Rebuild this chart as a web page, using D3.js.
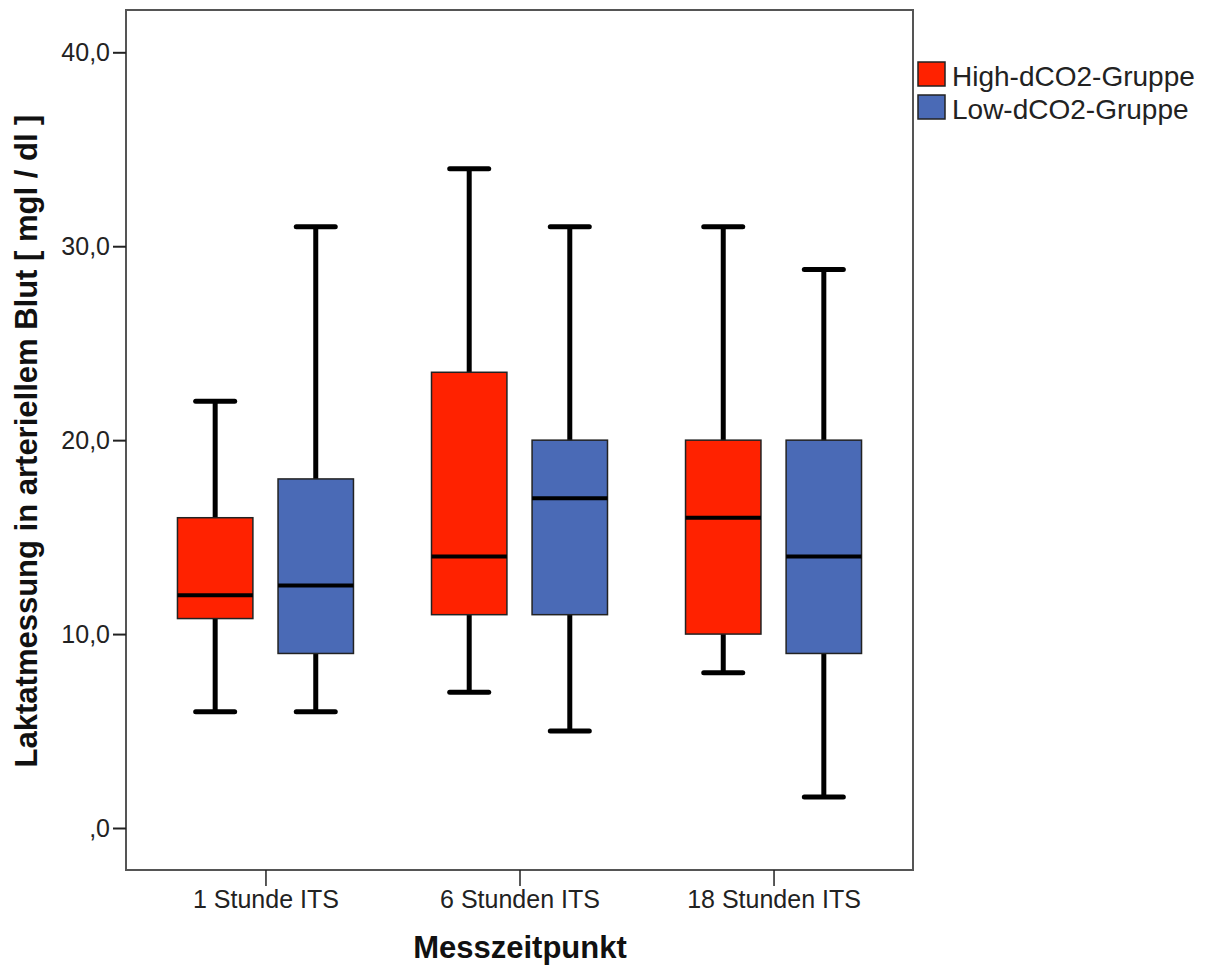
<!DOCTYPE html>
<html>
<head>
<meta charset="utf-8">
<script src="https://cdn.jsdelivr.net/npm/d3@7"></script>
<style>
  body { margin: 0; background: #fff; }
  svg { display: block; font-family: "Liberation Sans", Arial, sans-serif; }
</style>
</head>
<body>
<script>
const categories = ["1 Stunde ITS", "6 Stunden ITS", "18 Stunden ITS"]
const groups = ["High-dCO2-Gruppe", "Low-dCO2-Gruppe"]
const yTicks = [0, 10, 20, 30, 40]

// box plot stats per category
const highMin = [6, 7, 8]
const highQ1 = [10.8, 11, 10]
const highMedian = [12, 14, 16]
const highQ3 = [16, 23.5, 20]
const highMax = [22, 34, 31]

const lowMin = [6, 5, 1.6]
const lowQ1 = [9, 11, 9]
const lowMedian = [12.5, 17, 14]
const lowQ3 = [18, 20, 20]
const lowMax = [31, 31, 28.8]

const colors = ["#ff2200", "#4a6ab6"]

const width = 1209
const height = 967
const frame = {left: 126, top: 10, right: 913, bottom: 870}

const svg = d3.select('body').append('svg')
    .attr('width', width)
    .attr('height', height)

const x = d3.scalePoint()
    .domain(categories)
    .range([frame.left, frame.right])
    .padding(0.549)

const xSub = d3.scaleBand()
    .domain(groups)
    .range([-88, 88])
    .paddingInner(0.25)

const y = d3.scaleLinear()
    .domain([0, 40])
    .range([828, 52.3])

const rows = []
categories.forEach((c, i) => {
    rows.push({cat: c, group: groups[0], min: highMin[i], q1: highQ1[i], med: highMedian[i], q3: highQ3[i], max: highMax[i]})
    rows.push({cat: c, group: groups[1], min: lowMin[i], q1: lowQ1[i], med: lowMedian[i], q3: lowQ3[i], max: lowMax[i]})
})

// frame
svg.append('rect')
    .attr('x', frame.left)
    .attr('y', frame.top)
    .attr('width', frame.right - frame.left)
    .attr('height', frame.bottom - frame.top)
    .attr('fill', 'none')
    .attr('stroke', '#555')
    .attr('stroke-width', 2)

// y axis
const yAxis = svg.append('g')
    .attr('transform', `translate(${frame.left},0)`)
    .call(d3.axisLeft(y).tickValues(yTicks).tickSize(13).tickPadding(3)
        .tickFormat(d => d === 0 ? ',0' : d + ',0'))
yAxis.select('.domain').remove()
yAxis.selectAll('line').attr('stroke', '#222').attr('stroke-width', 2)
yAxis.selectAll('text').attr('font-size', 25).attr('fill', '#222')
    .attr('font-family', '"Liberation Sans", Arial, sans-serif')

// x axis
const xAxis = svg.append('g')
    .attr('transform', `translate(0,${frame.bottom})`)
    .call(d3.axisBottom(x).tickSize(16).tickPadding(4))
xAxis.select('.domain').remove()
xAxis.selectAll('line').attr('stroke', '#222').attr('stroke-width', 1.5)
xAxis.selectAll('text').attr('font-size', 25).attr('fill', '#222')
    .attr('font-family', '"Liberation Sans", Arial, sans-serif')

const boxes = svg.selectAll('g.box')
    .data(rows)
    .enter()
    .append('g')
    .attr('class', 'box')
    .attr('transform', d => `translate(${x(d.cat) + xSub(d.group)},0)`)

const bw = xSub.bandwidth()
const capW = 39

// whiskers
boxes.append('line')
    .attr('x1', bw / 2).attr('x2', bw / 2)
    .attr('y1', d => y(d.max)).attr('y2', d => y(d.min))
    .attr('stroke', '#000').attr('stroke-width', 5)
boxes.selectAll('line.cap')
    .data(d => [d.min, d.max])
    .enter()
    .append('line')
    .attr('class', 'cap')
    .attr('x1', bw / 2 - capW / 2).attr('x2', bw / 2 + capW / 2)
    .attr('y1', v => y(v)).attr('y2', v => y(v))
    .attr('stroke', '#000').attr('stroke-width', 5)
    .attr('stroke-linecap', 'round')

// boxes
boxes.append('rect')
    .attr('x', 0)
    .attr('width', bw)
    .attr('y', d => y(d.q3))
    .attr('height', d => y(d.q1) - y(d.q3))
    .attr('fill', d => colors[groups.indexOf(d.group)])
    .attr('stroke', '#222')
    .attr('stroke-width', 1.5)

// medians
boxes.append('line')
    .attr('x1', 0).attr('x2', bw)
    .attr('y1', d => y(d.med)).attr('y2', d => y(d.med))
    .attr('stroke', '#000').attr('stroke-width', 4)

// axis titles
svg.append('text')
    .attr('transform', 'translate(37,441) rotate(-90)')
    .attr('text-anchor', 'middle')
    .attr('font-size', 31)
    .attr('font-weight', 'bold')
    .attr('fill', '#111')
    .text('Laktatmessung in arteriellem Blut [ mgl / dl ]')

svg.append('text')
    .attr('x', 520)
    .attr('y', 958)
    .attr('text-anchor', 'middle')
    .attr('font-size', 31)
    .attr('font-weight', 'bold')
    .attr('fill', '#111')
    .text('Messzeitpunkt')

// legend
const legend = svg.selectAll('g.legend')
    .data(groups)
    .enter()
    .append('g')
    .attr('class', 'legend')
    .attr('transform', (d, i) => `translate(918,${62 + i * 33})`)
legend.append('rect')
    .attr('width', 27).attr('height', 24)
    .attr('fill', (d, i) => colors[i])
    .attr('stroke', '#222').attr('stroke-width', 1.5)
legend.append('text')
    .attr('x', 34)
    .attr('y', 24)
    .attr('font-size', 28)
    .attr('fill', '#222')
    .text(d => d)
</script>
</body>
</html>
